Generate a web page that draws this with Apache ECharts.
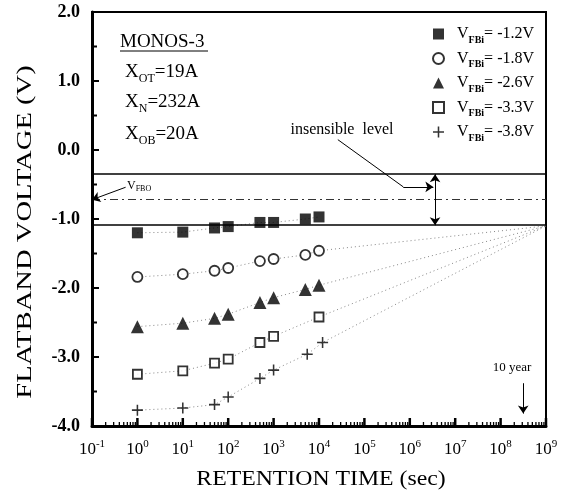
<!DOCTYPE html>
<html>
<head>
<meta charset="utf-8">
<script src="https://cdn.jsdelivr.net/npm/echarts@6/dist/echarts.min.js"></script>
<style>
  html, body { margin: 0; padding: 0; background: #fff; }
  #chart { width: 579px; height: 499px; }
</style>
</head>
<body>
<div id="chart"></div>
<script>
// retention times (sec) and flatband voltages (V)
const times = [1, 10, 50, 100, 500, 1000, 5000, 10000]
const times33 = [1, 10, 50, 100, 500, 1000, 10000]
const times38 = [1, 10, 50, 100, 500, 1000, 5500, 12000]
const v12 = [-1.20, -1.19, -1.13, -1.11, -1.05, -1.05, -1.00, -0.97]
const v18 = [-1.84, -1.80, -1.75, -1.71, -1.61, -1.58, -1.52, -1.46]
const v26 = [-2.56, -2.51, -2.44, -2.38, -2.21, -2.14, -2.02, -1.96]
const v33 = [-3.25, -3.20, -3.09, -3.03, -2.79, -2.70, -2.42]
const v38 = [-3.77, -3.74, -3.69, -3.58, -3.31, -3.19, -2.96, -2.79]
const seriesNames = ['-1.2V', '-1.8V', '-2.6V', '-3.3V', '-3.8V']

// extrapolated lines meet here
const fitEnd = [1e9, -1.1]
// levels
const upperLevel = -0.35
const lowerLevel = -1.09
const vfbo = -0.72
const tenYear = 3.15e8
const insensibleX = 3.6e6
// decades on the time axis
const decades = [-1, 0, 1, 2, 3, 4, 5, 6, 7, 8, 9]
const yMin = -4
const yMax = 2
const xMin = 0.1

const serif = 'Liberation Serif'
const plus = 'path://M0,4.3H10V5.7H0Z M4.3,0H5.7V10H4.3Z'

const chart = echarts.init(document.getElementById('chart'))

function pairs(xs, ys) {
  return xs.map((x, i) => [x, ys[i]])
}

function fitLine(xs, ys, extend) {
  const d = pairs(xs, ys)
  if (extend) d.push(fitEnd)
  return {
    type: 'line',
    data: d,
    symbol: 'none',
    silent: true,
    z: 1,
    lineStyle: { color: '#888', width: 1, type: [1, 3] }
  }
}

function textWithSub(a, s, b) {
  return {
    text: '{b|' + a + '}{s|' + s + '}{b|' + b + '}',
    verticalAlign: 'middle',
    rich: {
      b: { fontFamily: serif, fontSize: 19, lineHeight: 26, fill: '#000' },
      s: { fontFamily: serif, fontSize: 12, lineHeight: 12, verticalAlign: 'bottom', fill: '#000' }
    }
  }
}

const markerDefs = [
  { name: seriesNames[0], data: pairs(times, v12), symbol: 'rect', symbolSize: 11, itemStyle: { color: '#000' } },
  { name: seriesNames[1], data: pairs(times, v18), symbol: 'circle', symbolSize: 10, itemStyle: { color: '#fff', borderColor: '#000', borderWidth: 1.8 } },
  { name: seriesNames[2], data: pairs(times, v26), symbol: 'triangle', symbolSize: 13, itemStyle: { color: '#000' } },
  { name: seriesNames[3], data: pairs(times33, v33), symbol: 'rect', symbolSize: 9, itemStyle: { color: '#fff', borderColor: '#000', borderWidth: 1.8 } },
  { name: seriesNames[4], data: pairs(times38, v38), symbol: plus, symbolSize: 11, itemStyle: { color: '#000' } }
]

const arrowLines = [
  // insensible level double arrow
  [{ coord: [insensibleX, upperLevel], symbol: 'arrow' }, { coord: [insensibleX, lowerLevel], symbol: 'arrow' }],
  // leader from label
  [{ coord: [2.6e4, 0.15], symbol: 'none' }, { coord: [7.2e5, -0.535], symbol: 'none' }],
  [{ coord: [7.2e5, -0.535], symbol: 'none' }, { coord: [3.3e6, -0.535], symbol: 'arrow' }],
  // V_FBO pointer
  [{ coord: [0.55, -0.54], symbol: 'none' }, { coord: [0.1, vfbo], symbol: 'arrow' }],
  // 10 year pointer
  [{ coord: [tenYear, -3.38], symbol: 'none' }, { coord: [tenYear, -3.82], symbol: 'arrow' }]
]

const series = [
  fitLine(times, v12, false),
  fitLine(times, v18, true),
  fitLine(times, v26, true),
  fitLine(times33, v33, true),
  fitLine(times38, v38, true),
  {
    type: 'line',
    data: [],
    silent: true,
    markLine: {
      silent: true,
      symbol: ['none', 'none'],
      symbolSize: 8,
      label: { show: false },
      lineStyle: { color: '#000', width: 1.5, type: 'solid' },
      data: [
        { yAxis: upperLevel },
        { yAxis: lowerLevel },
        { yAxis: vfbo, lineStyle: { color: '#333', width: 1, type: [8, 4, 2, 4] } }
      ]
    }
  },
  {
    type: 'line',
    data: [],
    silent: true,
    markLine: {
      silent: true,
      symbolSize: 8,
      label: { show: false },
      lineStyle: { color: '#000', width: 1, type: 'solid' },
      data: arrowLines
    }
  }
]
markerDefs.forEach((m) => {
  series.push(Object.assign({ type: 'scatter', z: 5 }, m))
})

const textGraphics = [
  // axis titles, stretched along the text like the scan
  { type: 'text', x: 25, y: 232, rotation: Math.PI / 2, scaleX: 1.3, style: { text: 'FLATBAND VOLTAGE (V)', fontFamily: serif, fontSize: 22, fill: '#000', align: 'center', verticalAlign: 'middle' } },
  { type: 'text', x: 321, y: 479, scaleX: 1.08, style: { text: 'RETENTION TIME (sec)', fontFamily: serif, fontSize: 22, fill: '#000', align: 'center', verticalAlign: 'middle' } },
  { type: 'text', x: 120, y: 42, style: { text: 'MONOS-3', fontFamily: serif, fontSize: 19, fill: '#000', verticalAlign: 'middle' } },
  { type: 'line', shape: { x1: 120, y1: 51, x2: 208, y2: 51 }, style: { stroke: '#000', lineWidth: 1 } },
  { type: 'text', x: 125, y: 72, style: textWithSub('X', 'OT', '=19A') },
  { type: 'text', x: 125, y: 102, style: textWithSub('X', 'N', '=232A') },
  { type: 'text', x: 125, y: 134, style: textWithSub('X', 'OB', '=20A') },
  { type: 'text', x: 342, y: 130, style: { text: 'insensible  level', fontFamily: serif, fontSize: 16, fill: '#000', align: 'center', verticalAlign: 'middle' } },
  { type: 'text', x: 127, y: 186, style: { text: 'V{s|FBO}', fontFamily: serif, fontSize: 12, fill: '#000', verticalAlign: 'middle', rich: { s: { fontFamily: serif, fontSize: 8, lineHeight: 8, verticalAlign: 'bottom', fill: '#000' } }, lineHeight: 14 } },
  { type: 'text', x: 512, y: 368, style: { text: '10 year', fontFamily: serif, fontSize: 13, fill: '#000', align: 'center', verticalAlign: 'middle' } }
]

const option = {
  backgroundColor: '#fff',
  animation: false,
  grid: {
    left: 92, right: 33, top: 12, bottom: 73,
    show: true, borderColor: '#000', borderWidth: 2,
    outerBoundsMode: 'none'
  },
  legend: {
    data: seriesNames,
    orient: 'vertical',
    left: 427,
    top: 18,
    itemGap: 2.5,
    itemWidth: 11,
    itemHeight: 11,
    formatter: (name) => 'V{sub|FBi}= ' + name,
    textStyle: {
      fontFamily: serif,
      fontSize: 16,
      color: '#000',
      lineHeight: 22,
      padding: [0, 0, 0, 8],
      rich: {
        sub: { fontFamily: serif, fontSize: 10, fontWeight: 'bold', lineHeight: 10, verticalAlign: 'bottom', color: '#000' }
      }
    }
  },
  xAxis: [{
    type: 'log',
    logBase: 10,
    min: xMin,
    max: 1e9,
    splitNumber: 10,
    axisLine: { onZero: false, lineStyle: { color: '#000', width: 3 } },
    axisTick: { show: false },
    splitLine: { show: false },
    axisLabel: {
      margin: 13,
      color: '#000',
      fontFamily: serif,
      fontSize: 17,
      lineHeight: 22,
      formatter: (v) => '10{s|' + Math.round(Math.log10(v)) + '}',
      rich: { s: { fontFamily: serif, fontSize: 11, lineHeight: 11, verticalAlign: 'top', color: '#000' } }
    }
  }],
  yAxis: [{
    type: 'value',
    min: yMin,
    max: yMax,
    interval: 1,
    axisLine: { show: true, onZero: false, lineStyle: { color: '#000', width: 3 } },
    axisTick: { show: false },
    splitLine: { show: false },
    axisLabel: {
      margin: 12,
      color: '#000',
      fontFamily: serif,
      fontSize: 18,
      fontWeight: 'bold',
      formatter: (v) => v.toFixed(1)
    }
  }],
  graphic: textGraphics,
  series: series
}

chart.setOption(option)

// tick marks: positions come from the chart's own scales
function tickLine(p, dx, dy, w) {
  return {
    type: 'line',
    silent: true,
    z: 100,
    shape: { x1: p[0], y1: p[1], x2: p[0] + dx, y2: p[1] + dy },
    style: { stroke: '#000', lineWidth: w }
  }
}
const ticks = []
decades.forEach((d) => {
  const base = Math.pow(10, d)
  ticks.push(tickLine(chart.convertToPixel({ gridIndex: 0 }, [base, yMin]), 0, -8, 2.5))
  if (d < 9) {
    for (let k = 2; k <= 9; k++) {
      ticks.push(tickLine(chart.convertToPixel({ gridIndex: 0 }, [base * k, yMin]), 0, -4, 1.3))
    }
  }
})
for (let v = yMin; v <= yMax; v++) {
  ticks.push(tickLine(chart.convertToPixel({ gridIndex: 0 }, [xMin, v]), 7, 0, 2))
  if (v < yMax) ticks.push(tickLine(chart.convertToPixel({ gridIndex: 0 }, [xMin, v + 0.5]), 5, 0, 2))
}
chart.setOption({ graphic: textGraphics.concat(ticks) })
</script>
</body>
</html>
